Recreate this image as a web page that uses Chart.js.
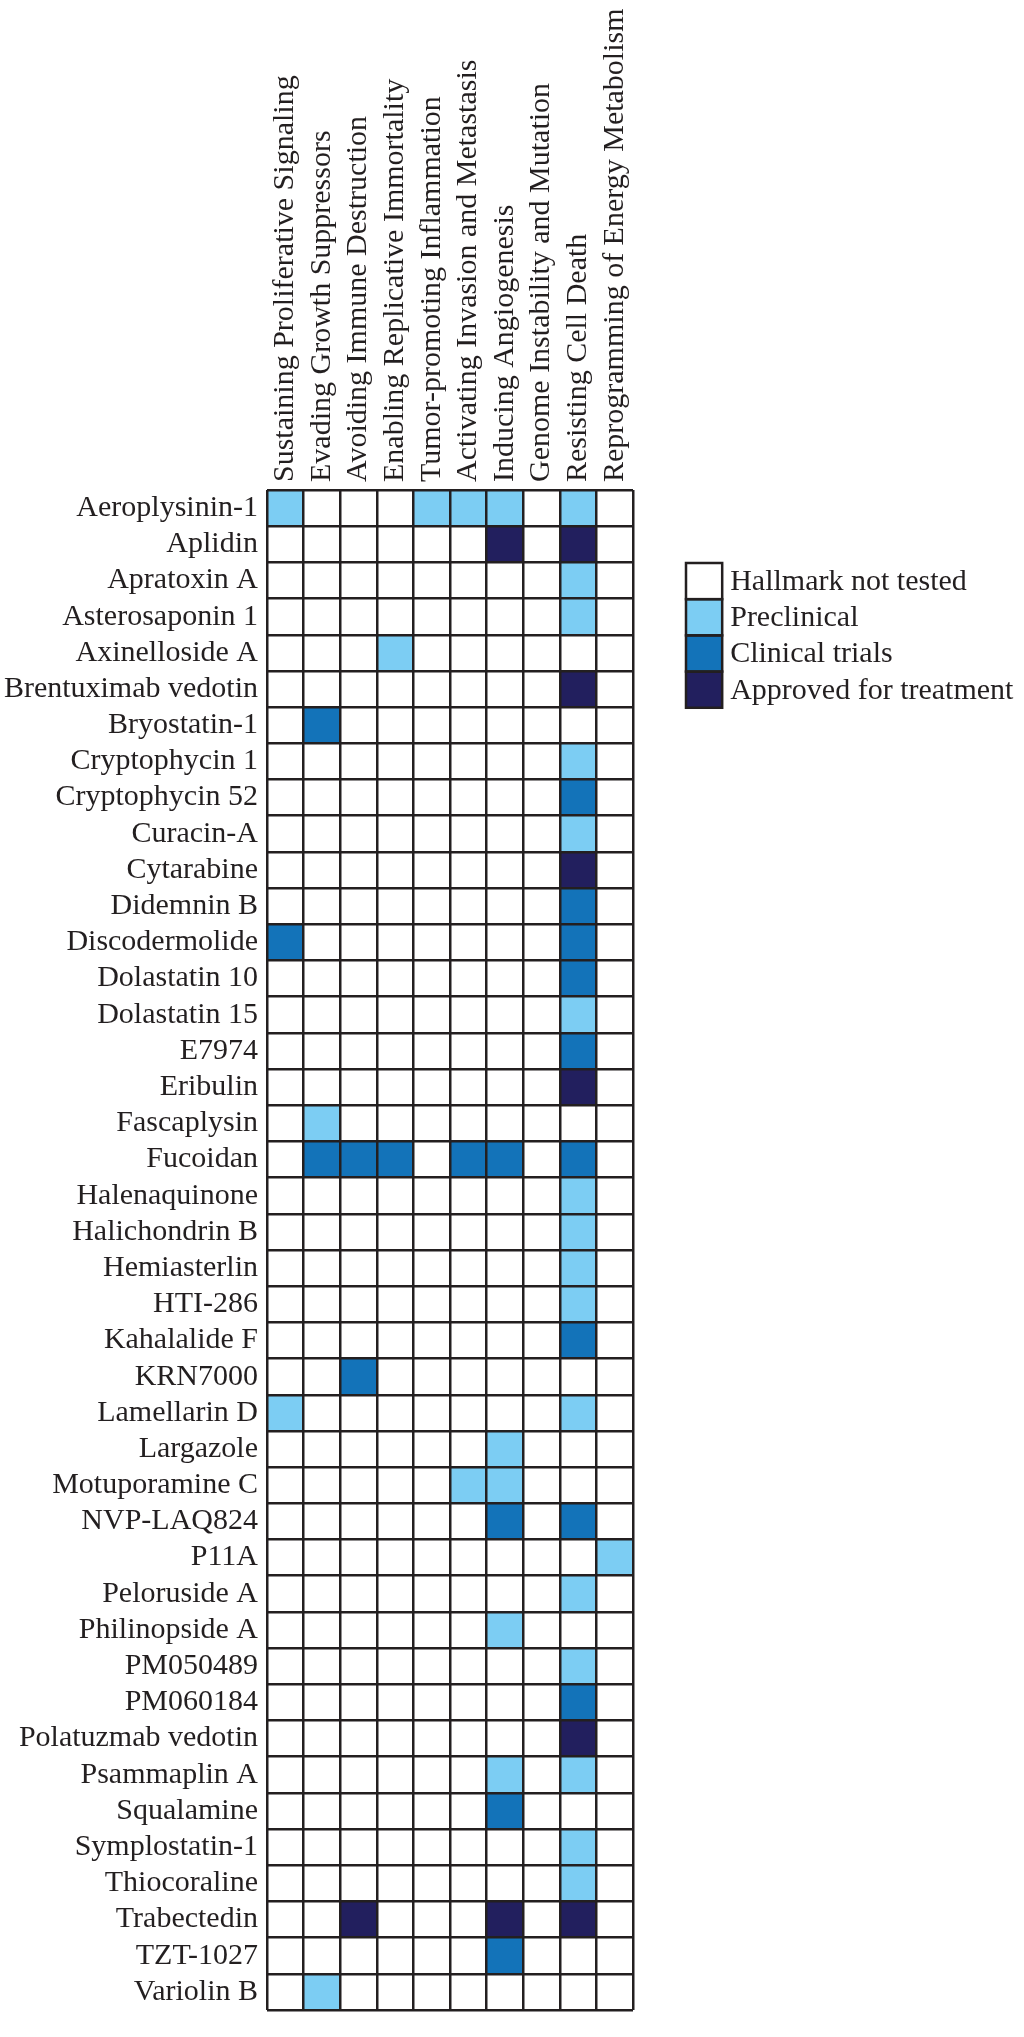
<!DOCTYPE html>
<html>
<head>
<meta charset="utf-8">
<script src="https://cdn.jsdelivr.net/npm/chart.js@4.4.1/dist/chart.umd.min.js"></script>
<style>
html, body { margin: 0; padding: 0; background: #fff; }
</style>
</head>
<body>
<canvas id="heat" width="1024" height="2037"></canvas>
<script>
var hallmarks = [
  "Sustaining Proliferative Signaling",
  "Evading Growth Suppressors",
  "Avoiding Immune Destruction",
  "Enabling Replicative Immortality",
  "Tumor-promoting Inflammation",
  "Activating Invasion and Metastasis",
  "Inducing Angiogenesis",
  "Genome Instability and Mutation",
  "Resisting Cell Death",
  "Reprogramming of Energy Metabolism"
];

var compounds = [
  "Aeroplysinin-1", "Aplidin", "Apratoxin A", "Asterosaponin 1", "Axinelloside A",
  "Brentuximab vedotin", "Bryostatin-1", "Cryptophycin 1", "Cryptophycin 52", "Curacin-A",
  "Cytarabine", "Didemnin B", "Discodermolide", "Dolastatin 10", "Dolastatin 15",
  "E7974", "Eribulin", "Fascaplysin", "Fucoidan", "Halenaquinone",
  "Halichondrin B", "Hemiasterlin", "HTI-286", "Kahalalide F", "KRN7000",
  "Lamellarin D", "Largazole", "Motuporamine C", "NVP-LAQ824", "P11A",
  "Peloruside A", "Philinopside A", "PM050489", "PM060184", "Polatuzmab vedotin",
  "Psammaplin A", "Squalamine", "Symplostatin-1", "Thiocoraline", "Trabectedin",
  "TZT-1027", "Variolin B"
];

var levels = ["Hallmark not tested", "Preclinical", "Clinical trials", "Approved for treatment"];
var levelColors = ["#ffffff", "#7ccdf3", "#1373b9", "#221f5e"];

// one row per compound, one code per hallmark (0 none, 1 preclinical, 2 clinical, 3 approved)
var stages = [
  [1,0,0,0,1,1,1,0,1,0],
  [0,0,0,0,0,0,3,0,3,0],
  [0,0,0,0,0,0,0,0,1,0],
  [0,0,0,0,0,0,0,0,1,0],
  [0,0,0,1,0,0,0,0,0,0],
  [0,0,0,0,0,0,0,0,3,0],
  [0,2,0,0,0,0,0,0,0,0],
  [0,0,0,0,0,0,0,0,1,0],
  [0,0,0,0,0,0,0,0,2,0],
  [0,0,0,0,0,0,0,0,1,0],
  [0,0,0,0,0,0,0,0,3,0],
  [0,0,0,0,0,0,0,0,2,0],
  [2,0,0,0,0,0,0,0,2,0],
  [0,0,0,0,0,0,0,0,2,0],
  [0,0,0,0,0,0,0,0,1,0],
  [0,0,0,0,0,0,0,0,2,0],
  [0,0,0,0,0,0,0,0,3,0],
  [0,1,0,0,0,0,0,0,0,0],
  [0,2,2,2,0,2,2,0,2,0],
  [0,0,0,0,0,0,0,0,1,0],
  [0,0,0,0,0,0,0,0,1,0],
  [0,0,0,0,0,0,0,0,1,0],
  [0,0,0,0,0,0,0,0,1,0],
  [0,0,0,0,0,0,0,0,2,0],
  [0,0,2,0,0,0,0,0,0,0],
  [1,0,0,0,0,0,0,0,1,0],
  [0,0,0,0,0,0,1,0,0,0],
  [0,0,0,0,0,1,1,0,0,0],
  [0,0,0,0,0,0,2,0,2,0],
  [0,0,0,0,0,0,0,0,0,1],
  [0,0,0,0,0,0,0,0,1,0],
  [0,0,0,0,0,0,1,0,0,0],
  [0,0,0,0,0,0,0,0,1,0],
  [0,0,0,0,0,0,0,0,2,0],
  [0,0,0,0,0,0,0,0,3,0],
  [0,0,0,0,0,0,1,0,1,0],
  [0,0,0,0,0,0,2,0,0,0],
  [0,0,0,0,0,0,0,0,1,0],
  [0,0,0,0,0,0,0,0,1,0],
  [0,0,3,0,0,0,3,0,3,0],
  [0,0,0,0,0,0,2,0,0,0],
  [0,1,0,0,0,0,0,0,0,0]
];

var ink = "#231f20";
var serif = "'Liberation Serif', 'Times New Roman', serif";

// each hallmark is one stacked dataset, every cell one unit wide
var datasets = hallmarks.map(function (h, j) {
  return {
    label: h,
    data: compounds.map(function () { return 1; }),
    backgroundColor: stages.map(function (row) { return levelColors[row[j]]; }),
    borderWidth: 0,
    categoryPercentage: 1,
    barPercentage: 1
  };
});

var legendBoxes = {
  id: "legendBoxes",
  afterDraw: function (chart) {
    var ctx = chart.ctx;
    var area = chart.chartArea;
    var size = chart.scales.y.height / compounds.length;
    var x = area.right + 53;
    var y0 = area.top + 73;
    ctx.save();
    ctx.font = "30px " + serif;
    ctx.textBaseline = "middle";
    levels.forEach(function (name, i) {
      var y = y0 + i * size;
      ctx.fillStyle = levelColors[i];
      ctx.fillRect(x, y, size, size);
      ctx.fillStyle = ink;
      ctx.fillText(name, x + size + 8, y + size / 2 + 1);
    });
    ctx.strokeStyle = ink;
    ctx.lineWidth = 2.5;
    levels.forEach(function (name, i) {
      ctx.strokeRect(x, y0 + i * size, size, size);
    });
    ctx.restore();
  }
};

new Chart(document.getElementById("heat"), {
  type: "bar",
  data: { labels: compounds, datasets: datasets },
  plugins: [legendBoxes],
  options: {
    indexAxis: "y",
    responsive: false,
    animation: false,
    layout: { padding: { left: 0, top: 0, right: 391, bottom: 5 } },
    plugins: { legend: { display: false }, tooltip: { enabled: false } },
    scales: {
      x: {
        type: "linear", position: "bottom", stacked: true, min: 0, max: 10,
        ticks: { display: false, stepSize: 1 },
        grid: { color: ink, lineWidth: 2.5, drawTicks: false, z: 1 },
        border: { display: false },
        afterFit: function (s) { s.height = 0; }
      },
      xLabels: {
        type: "category", labels: hallmarks, position: "top", offset: true,
        grid: { display: false, drawTicks: false },
        border: { display: false },
        ticks: {
          autoSkip: false, minRotation: 90, maxRotation: 90, padding: 8, labelOffset: 36,
          color: ink, font: { family: serif, size: 30 }
        },
        afterFit: function (s) { s.height = 490; }
      },
      y: {
        type: "category", stacked: true, offset: true,
        grid: { offset: true, color: ink, lineWidth: 2.5, drawTicks: false, z: 1 },
        border: { display: false },
        ticks: { autoSkip: false, padding: 9, color: ink, font: { family: serif, size: 30 } },
        afterFit: function (s) { s.width = 267; }
      }
    }
  }
});
</script>
</body>
</html>
